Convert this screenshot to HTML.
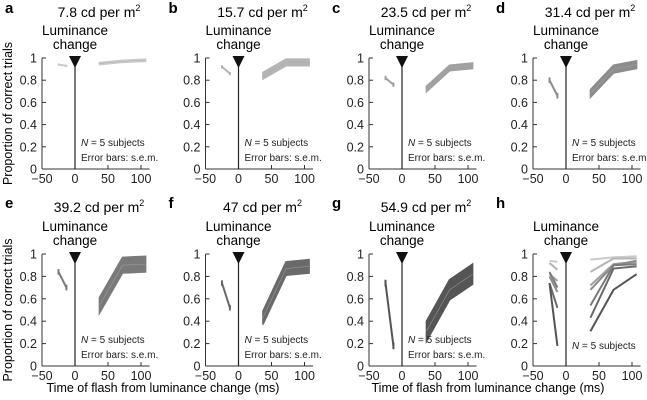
<!DOCTYPE html>
<html><head><meta charset="utf-8"><style>
body{margin:0;background:#fff;}
svg{display:block;font-family:"Liberation Sans",sans-serif;}
</style></head><body>
<svg id="c" width="647" height="400" viewBox="0 0 647 400"></svg>
<script>
const panelLetters=["a","b","c","d","e","f","g","h"];
const panelTitles=["7.8","15.7","23.5","31.4","39.2","47","54.9",""];
const preTimes=[-25,-13];
const postTimes=[37,72,107];
const preMeans=[[0.94,0.93],[0.92,0.86],[0.82,0.76],[0.80,0.66],[0.84,0.70],[0.74,0.52],[0.74,0.18]];
const preErr=[0.01,0.015,0.02,0.025,0.025,0.025,0.03];
const postMeans=[[0.95,0.97,0.98],[0.84,0.96,0.96],[0.72,0.91,0.93],[0.68,0.90,0.94],[0.54,0.90,0.91],[0.43,0.87,0.89],[0.31,0.68,0.82]];
const postErr=[0.01,0.03,0.025,0.035,0.07,0.06,0.09];
const colors=["#cacaca","#b5b5b5","#a0a0a0","#8c8c8c","#7a7a7a","#6a6a6a","#555555"];
const yTicks=[0,0.2,0.4,0.6,0.8,1];
const xTicks=[-50,0,50,100];

const svg=document.getElementById('c');
const NS="http://www.w3.org/2000/svg";
function mk(tag,attrs,parent,txt){const e=document.createElementNS(NS,tag);for(const k in attrs)e.setAttribute(k,attrs[k]);if(txt!==undefined)e.textContent=txt;(parent||svg).appendChild(e);return e;}
const colX=[75,238.5,402,566];
const rowY=[[58,169],[254,366]];
for(let p=0;p<8;p++){
  const col=p%4,row=Math.floor(p/4);
  const x0=colX[col];const yTop=rowY[row][0],yBot=rowY[row][1];
  const sx=t=>x0+t*0.66;
  const sy=v=>yBot-v*(yBot-yTop);
  const g=mk('g',{});
  
  
  const L=mk('text',{x:x0-70,y:row?208:13,'font-size':15,'font-weight':'bold'},g,panelLetters[p]);
  
  
  if(panelTitles[p]){
    const t=mk('text',{x:x0+24,y:row?212:17,'font-size':14,'text-anchor':'middle'},g);
    
    
    t.appendChild(document.createTextNode(panelTitles[p]+' cd per m'));
    mk('tspan',{dy:-6,'font-size':9},t,'2');
  }
  const l1=mk('text',{x:x0,y:yTop-23,'font-size':13.5,'text-anchor':'middle'},g,'Luminance');
  
  const l2=mk('text',{x:x0,y:yTop-9,'font-size':13.5,'text-anchor':'middle'},g,'change');
  
  const ya=mk('line',{x1:sx(-50),y1:yTop,x2:sx(-50),y2:yBot,stroke:'#333','stroke-width':1},g);
  
  const xa=mk('line',{x1:sx(-50),y1:yBot,x2:sx(113),y2:yBot,stroke:'#333','stroke-width':1},g);
  
  yTicks.forEach(v=>{
    mk('line',{x1:sx(-50),x2:sx(-50)+4,y1:sy(v),y2:sy(v),stroke:'#333'},g);
    const tl=mk('text',{x:sx(-50)-5,y:sy(v)+4.5,'font-size':12.5,'text-anchor':'end',fill:'#222'},g,String(v));
    
  });
  xTicks.forEach(v=>{
    mk('line',{x1:sx(v),x2:sx(v),y1:yBot,y2:yBot-4,stroke:'#333'},g);
    const tl=mk('text',{x:sx(v),y:yBot+14,'font-size':12.5,'text-anchor':'middle',fill:'#222'},g,v<0?'\u2212'+(-v):String(v));
    
  });
  const zl=mk('line',{x1:x0,x2:x0,y1:yTop,y2:yBot,stroke:'#222','stroke-width':1.2},g);
  
  const tri=mk('polygon',{points:`${x0-6},${yTop-2} ${x0+6},${yTop-2} ${x0},${yTop+10}`,fill:'#111'},g);
  
  if(p<7){
    // pre: line with small error bars
    const pm=preMeans[p],pe=preErr[p];
    const pl=mk('polyline',{points:preTimes.map((t,i)=>sx(t)+','+sy(pm[i])).join(' '),fill:'none',stroke:colors[p],'stroke-width':2},g);
    
    preTimes.forEach((t,i)=>{
      const eb=mk('line',{x1:sx(t),x2:sx(t),y1:sy(pm[i]+pe),y2:sy(pm[i]-pe),stroke:colors[p],'stroke-width':2},g);
      
    });
    const ms=postMeans[p],er=postErr[p];
    const up=postTimes.map((t,i)=>sx(t)+','+sy(ms[i]+er)).join(' ');
    const dn=postTimes.map((t,i)=>sx(t)+','+sy(ms[i]-er)).reverse().join(' ');
    const band=mk('polygon',{points:up+' '+dn,fill:colors[p],stroke:colors[p],'stroke-width':1.5},g);
    
    const ln=mk('polyline',{points:postTimes.map((t,i)=>sx(t)+','+sy(ms[i])).join(' '),fill:'none',stroke:'#aaa','stroke-width':0.6,'stroke-opacity':0.7},g);
    
    const n=mk('text',{x:x0+6,y:yBot-23,'font-size':10,fill:'#222'},g);
    
    mk('tspan',{'font-style':'italic'},n,'N');n.appendChild(document.createTextNode(' = 5 subjects'));
    const e=mk('text',{x:x0+6,y:yBot-8,'font-size':10,fill:'#222'},g,'Error bars: s.e.m.');
    
  } else {
    for(let s=0;s<7;s++){
      [[preTimes,preMeans[s]],[postTimes,postMeans[s]]].forEach(([ts,ms])=>{
        const ln=mk('polyline',{points:ts.map((t,i)=>sx(t)+','+sy(ms[i])).join(' '),fill:'none',stroke:colors[s],'stroke-width':2},g);
        
      });
    }
    const n=mk('text',{x:x0+6,y:yBot-17,'font-size':10,fill:'#222'},g);
    
    mk('tspan',{'font-style':'italic'},n,'N');n.appendChild(document.createTextNode(' = 5 subjects'));
  }
}
[[12,113.5],[12,310]].forEach(([x,y])=>{
  const t=mk('text',{x:x,y:y,'font-size':12.5,'text-anchor':'middle',transform:`rotate(-90 ${x} ${y})`},svg,'Proportion of correct trials');
  
});
[163,488].forEach(x=>{
  const t=mk('text',{x:x,y:392,'font-size':12.5,'text-anchor':'middle'},svg,'Time of flash from luminance change (ms)');
  
});
</script>
</body></html>
